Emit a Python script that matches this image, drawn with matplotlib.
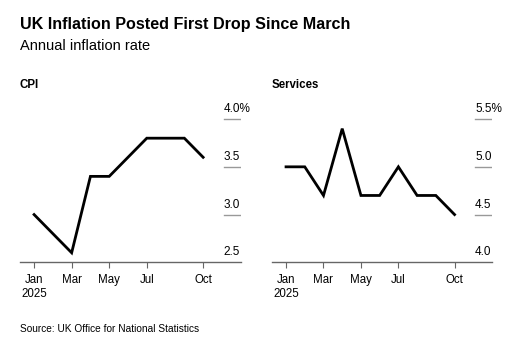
import matplotlib.pyplot as plt

plt.rcParams['font.family'] = ['Liberation Sans', 'DejaVu Sans']

# Datos
months = ["Jan", "Feb", "Mar", "Apr", "May", "Jun", "Jul", "Aug", "Sep", "Oct"]
cpi = [3.0, 2.8, 2.6, 3.4, 3.4, 3.6, 3.8, 3.8, 3.8, 3.6]
services = [5.0, 5.0, 4.7, 5.4, 4.7, 4.7, 5.0, 4.7, 4.7, 4.5]

tick_months = ["Jan", "Mar", "May", "Jul", "Oct"]
cpi_ticks = [2.5, 3.0, 3.5, 4.0]
services_ticks = [4.0, 4.5, 5.0, 5.5]

W, H = 524, 348
fig = plt.figure(figsize=(W / 100, H / 100), dpi=100)

fig.text(20 / W, 1 - 25 / H, "UK Inflation Posted First Drop Since March",
         fontsize=11.6, fontweight="bold", va="center", ha="left")
fig.text(20 / W, 1 - 46 / H, "Annual inflation rate",
         fontsize=10.5, va="center", ha="left")
fig.text(20 / W, 1 - 329 / H, "Source: UK Office for National Statistics",
         fontsize=7.3, va="center", ha="left")


def panel(left_px, width_px, name, values, ticks):
    ax = fig.add_axes([left_px / W, 1 - 262.3 / H, width_px / W, 162.3 / H])
    x = list(range(len(values)))
    ax.plot(x, values, color="black", lw=2, solid_joinstyle="miter")
    lo = ticks[0]
    ax.set_ylim(lo, lo + 1.7)
    ax.set_xlim(-0.75, 11)
    for s in ["top", "right", "left"]:
        ax.spines[s].set_visible(False)
    ax.spines["bottom"].set_color("#666666")
    ax.spines["bottom"].set_linewidth(1)
    ax.set_yticks([])
    pos = [months.index(m) for m in tick_months]
    ax.set_xticks(pos)
    ax.set_xticklabels(["Jan\n2025"] + tick_months[1:], fontsize=8.3,
                       va="top", linespacing=1.25)
    ax.tick_params(axis="x", length=4, color="#666666", pad=4.5)
    for i, t in enumerate(ticks):
        if i > 0:
            ax.axhline(t, xmin=0.924, xmax=1, color="#999999", lw=1)
        lab = f"{t:.1f}%" if i == len(ticks) - 1 else f"{t:.1f}"
        ax.text(10.1, t + 0.04, lab, fontsize=8.5, ha="left", va="bottom")
    fig.text(left_px / W, 1 - 85 / H, name, fontsize=8.3, fontweight="bold",
             va="center", ha="left")
    return ax


panel(20, 220.7, "CPI", cpi, cpi_ticks)
panel(272, 220, "Services", services, services_ticks)

fig.savefig("out.png", dpi=100)
